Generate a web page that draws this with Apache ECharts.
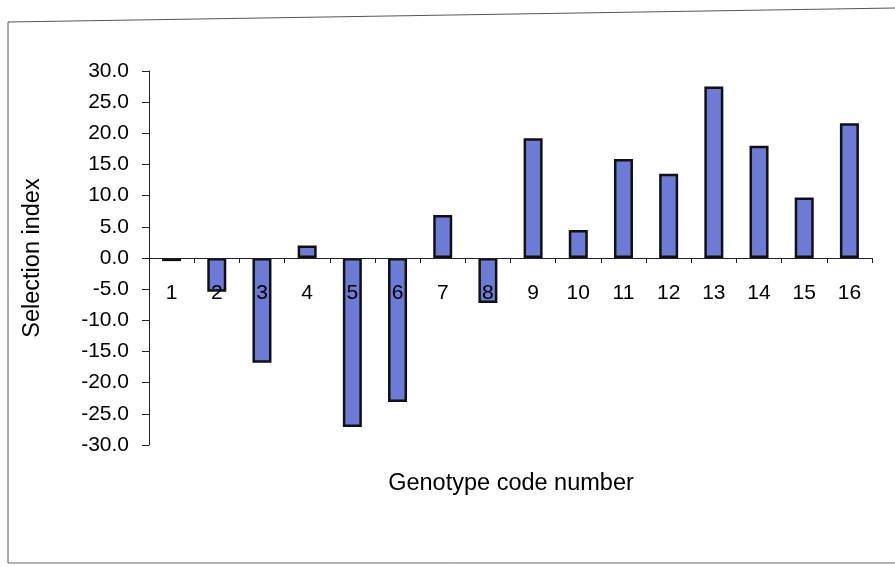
<!DOCTYPE html>
<html>
<head>
<meta charset="utf-8">
<script src="https://cdn.jsdelivr.net/npm/echarts@6/dist/echarts.min.js"></script>
<style>html,body{margin:0;padding:0;background:#fff;}#c{width:895px;height:567px;}</style>
</head>
<body>
<div id="c"></div>
<script>
var categories = ['1','2','3','4','5','6','7','8','9','10','11','12','13','14','15','16'];
var selectionIndex = [-0.5, -5.4, -16.8, 2.0, -27.1, -23.1, 6.9, -7.2, 19.2, 4.5, 15.9, 13.5, 27.5, 18.0, 9.7, 21.6];
var yTicks = {min: -30, max: 30, interval: 5};
var xTitle = 'Genotype code number';
var yTitle = 'Selection index';

var chart = echarts.init(document.getElementById('c'));
var font = 'Liberation Sans, Arial, sans-serif';
var gridTop = 71, gridBottom = 122, H = 567;
var plotH = H - gridTop - gridBottom;
// x axis sits at value 0: distance from grid bottom
var zeroOffset = -plotH * (0 - yTicks.min) / (yTicks.max - yTicks.min);
chart.setOption({
  animation: false,
  backgroundColor: '#ffffff',
  graphic: [{
    type: 'polyline',
    shape: {points: [[8, 563], [8, 22], [895, 8]]},
    style: {stroke: '#555', lineWidth: 1, fill: null}
  }, {
    type: 'line',
    shape: {x1: 8, y1: 563, x2: 895, y2: 563},
    style: {stroke: '#666', lineWidth: 1}
  }, {
    type: 'text',
    x: 511, y: 484,
    style: {text: xTitle, font: '23.5px ' + font, fill: '#000', textAlign: 'center', textVerticalAlign: 'middle'}
  }],
  grid: {left: 149, right: 23, top: gridTop, bottom: gridBottom},
  xAxis: {
    type: 'category',
    data: categories,
    offset: zeroOffset,
    z: 10,
    axisLine: {onZero: false, lineStyle: {color: '#222', width: 1}},
    axisTick: {show: true, alignWithLabel: false, length: 5, inside: false, lineStyle: {color: '#222'}},
    axisLabel: {margin: 25, fontFamily: font, fontSize: 21, color: '#000'},
    splitLine: {show: false}
  },
  yAxis: {
    type: 'value',
    min: yTicks.min, max: yTicks.max, interval: yTicks.interval,
    name: yTitle,
    nameLocation: 'middle',
    nameGap: 104,
    nameRotate: 90,
    nameTextStyle: {fontFamily: font, fontSize: 23.5, color: '#000'},
    axisLine: {show: true, lineStyle: {color: '#222', width: 1}},
    axisTick: {show: true, length: 7, lineStyle: {color: '#222'}},
    axisLabel: {margin: 20, fontFamily: font, fontSize: 21, color: '#000',
      formatter: function (v) { return v.toFixed(1); }},
    splitLine: {show: false}
  },
  series: [{
    type: 'bar',
    z: 2,
    data: selectionIndex,
    barWidth: 19,
    itemStyle: {color: '#6c7bd6', borderColor: '#111', borderWidth: 2.5}
  }]
});
</script>
</body>
</html>
